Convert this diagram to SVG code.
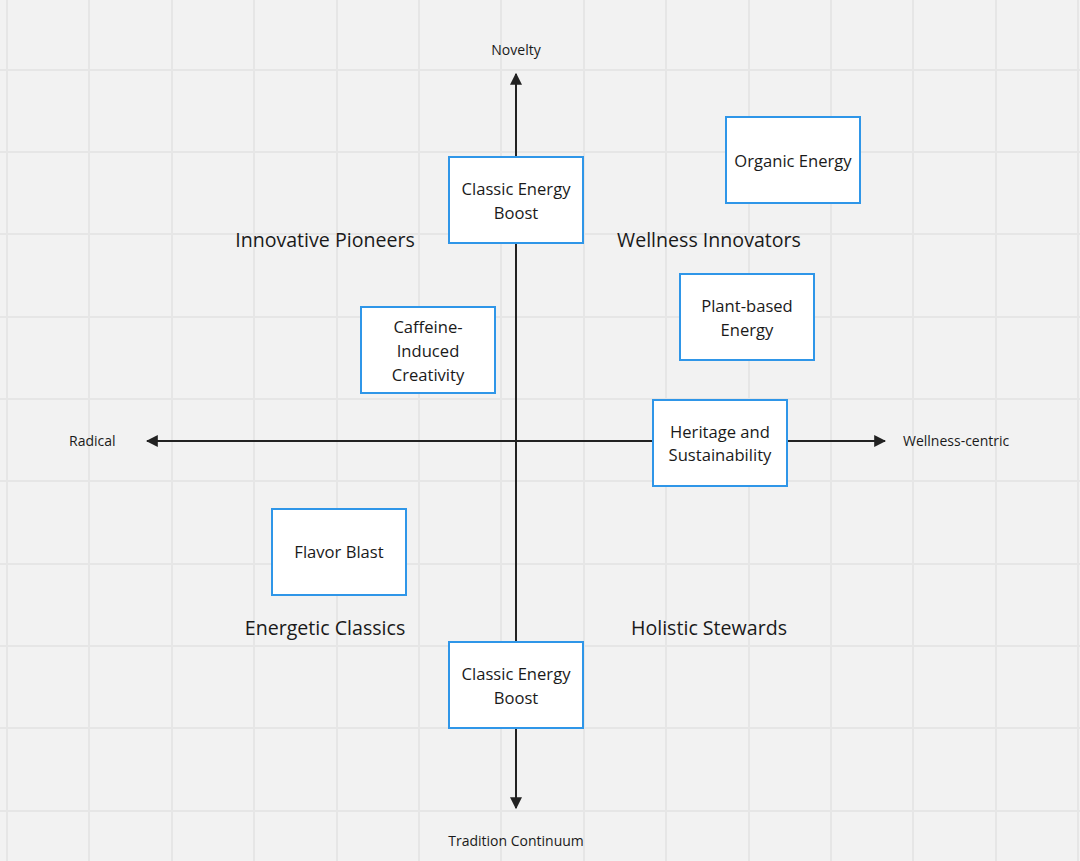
<svg xmlns="http://www.w3.org/2000/svg" width="1080" height="861" viewBox="0 0 1080 861">
<style>
text{font-family:"Open Sans","Noto Sans",sans-serif;fill:#1a1a1a}
.g{stroke:#e6e6e6;stroke-width:2}
.n rect{fill:#fff;stroke:#2f96e8;stroke-width:2}
.n text{font-size:16.6px;text-anchor:middle}
.ax{stroke:#222;stroke-width:2;fill:none}
.q{font-size:19.6px;text-anchor:middle}
.l{font-size:14px}
</style>
<defs><marker id="ar" viewBox="0 0 10 10" refX="9" refY="5" markerWidth="6" markerHeight="6" orient="auto"><path d="M0,0 L10,5 L0,10 Z" fill="#222"/></marker></defs>
<rect width="1080" height="861" fill="#f2f2f2"/>
<g id="grid">
<path class="g" d="M7,0V861M89,0V861M172,0V861M254,0V861M337,0V861M419,0V861M501,0V861M584,0V861M666,0V861M749,0V861M831,0V861M913,0V861M996,0V861M1078,0V861M0,70H1080M0,152H1080M0,234H1080M0,317H1080M0,399H1080M0,481H1080M0,564H1080M0,646H1080M0,728H1080M0,811H1080"/>
</g>
<g id="connectors">
<line class="ax" x1="516" y1="441" x2="516" y2="74" marker-end="url(#ar)"/>
<line class="ax" x1="516" y1="441" x2="516" y2="808" marker-end="url(#ar)"/>
<line class="ax" x1="516" y1="441" x2="147" y2="441" marker-end="url(#ar)"/>
<line class="ax" x1="516" y1="441" x2="885" y2="441" marker-end="url(#ar)"/>
</g>
<g id="labels">
<text class="l" x="516" y="55" text-anchor="middle">Novelty</text>
<text class="l" x="516" y="846" text-anchor="middle">Tradition Continuum</text>
<text class="l" x="69" y="446">Radical</text>
<text class="l" x="903" y="446">Wellness-centric</text>
<text class="q" x="325" y="247">Innovative Pioneers</text>
<text class="q" x="709" y="247">Wellness Innovators</text>
<text class="q" x="325" y="635">Energetic Classics</text>
<text class="q" x="709" y="635">Holistic Stewards</text>
</g>
<g id="n1" class="n"><rect x="449" y="157" width="134" height="86"/><text x="516" y="195">Classic Energy</text><text x="516" y="219">Boost</text></g>
<g id="n2" class="n"><rect x="726" y="117" width="134" height="86"/><text x="793" y="167">Organic Energy</text></g>
<g id="n3" class="n"><rect x="680" y="274" width="134" height="86"/><text x="747" y="312">Plant-based</text><text x="747" y="336">Energy</text></g>
<g id="n4" class="n"><rect x="361" y="307" width="134" height="86"/><text x="428" y="333">Caffeine-</text><text x="428" y="357">Induced</text><text x="428" y="381">Creativity</text></g>
<g id="n5" class="n"><rect x="653" y="400" width="134" height="86"/><text x="720" y="438">Heritage and</text><text x="720" y="461">Sustainability</text></g>
<g id="n6" class="n"><rect x="272" y="509" width="134" height="86"/><text x="339" y="558">Flavor Blast</text></g>
<g id="n7" class="n"><rect x="449" y="642" width="134" height="86"/><text x="516" y="680">Classic Energy</text><text x="516" y="704">Boost</text></g>
</svg>
